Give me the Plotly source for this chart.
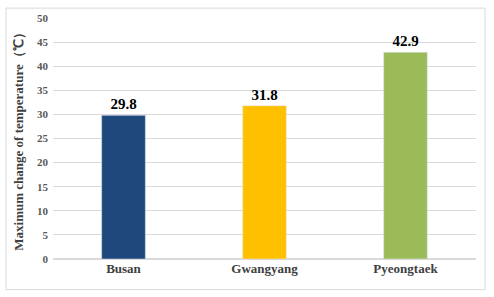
import plotly.graph_objects as go

categories = ["Busan", "Gwangyang", "Pyeongtaek"]
values = [29.8, 31.8, 42.9]
colors = ["#1F497D", "#FFC000", "#9BBB59"]
y_ticks = [0, 5, 10, 15, 20, 25, 30, 35, 40, 45, 50]

serif = "Liberation Serif"

fig = go.Figure(go.Bar(
    x=categories, y=values, marker_color=colors, width=0.31,
    text=[f"{v:.1f}" for v in values], textposition="outside",
    textfont=dict(family=serif, size=15, color="#000000", weight="bold"),
    cliponaxis=False,
))

L, R, T, B = 53, 18, 15, 38
W, H = 494, 297
pw, ph = W - L - R, H - T - B

def px(x):
    return (x - L) / pw

def py(y):
    return (H - B - y) / ph

fig.add_shape(type="rect", xref="paper", yref="paper",
              x0=px(6), x1=px(485), y0=py(290), y1=py(5),
              line=dict(color="#D9D9D9", width=1), fillcolor="rgba(0,0,0,0)")

fig.update_layout(
    width=W, height=H, margin=dict(l=L, r=R, t=T, b=B),
    paper_bgcolor="white", plot_bgcolor="white", showlegend=False,
    font=dict(family=serif),
    xaxis=dict(tickfont=dict(family=serif, size=13, color="#404040", weight="bold"),
               showgrid=False, showline=False, ticks=""),
    yaxis=dict(range=[0, 50], tickvals=y_ticks, showgrid=True, gridcolor="#D9D9D9",
               zeroline=True, zerolinecolor="#D9D9D9", ticks="", ticklabelstandoff=4,
               tickfont=dict(family=serif, size=11, color="#595959", weight="bold"),
               title=dict(text="Maximum change of temperature\uff08\u2103\uff09", standoff=10,
                          font=dict(family=serif, size=13, color="#404040", weight="bold"))),
)

fig.write_html("out.html")
